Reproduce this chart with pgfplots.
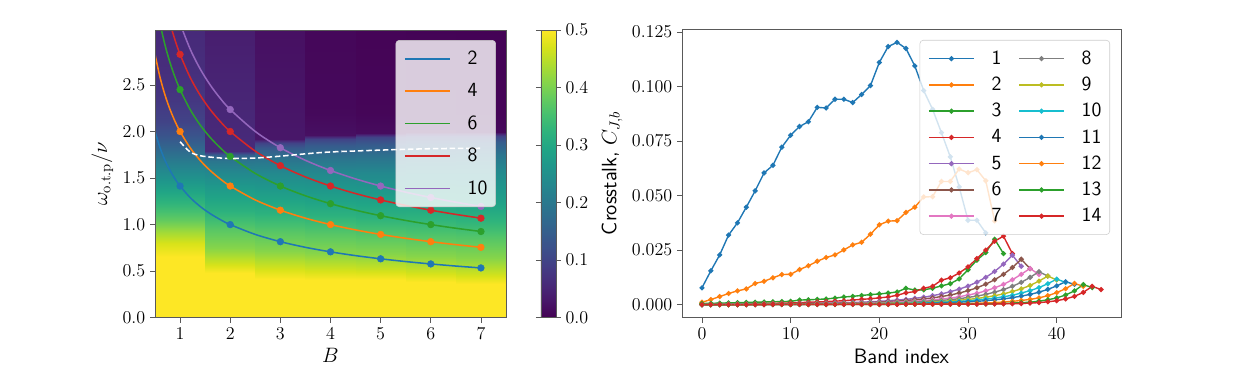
\RequirePackage{fix-cm}
\documentclass[border=0pt]{standalone}
\usepackage{fontspec}
\usepackage{pgfplots}
\pgfplotsset{compat=1.18}

\definecolor{C0}{HTML}{1F77B4}
\definecolor{C1}{HTML}{FF7F0E}
\definecolor{C2}{HTML}{2CA02C}
\definecolor{C3}{HTML}{D62728}
\definecolor{C4}{HTML}{9467BD}
\definecolor{C5}{HTML}{8C564B}
\definecolor{C6}{HTML}{E377C2}
\definecolor{C7}{HTML}{7F7F7F}
\definecolor{C8}{HTML}{BCBD22}
\definecolor{C9}{HTML}{17BECF}

\pgfplotsset{
  mpl/.style={
    scale only axis, anchor=south west,
    tick align=outside, tick pos=left, major tick length=3.5pt,
    axis line style={black!65},
    every tick/.style={black!65, line width=0.6pt},
    tick label style={font=\fontsize{13}{15}\selectfont},
    label style={font=\fontsize{15}{17}\selectfont},
    legend cell align=left,
    legend image code/.code={\draw[mark repeat=2,mark phase=2] plot coordinates {(0pt,0pt) (16.2pt,0pt) (32.4pt,0pt)};},
    legend style={draw=black!20, rounded corners=2.5pt, fill=white, fill opacity=0.8,
      text opacity=1, draw opacity=1, font=\sffamily\fontsize{14.5}{16}\selectfont,
      inner xsep=6pt, inner ysep=7.6pt, column sep=12.2pt, nodes={inner sep=0pt}},
  },
  cur/.style={#1, line width=1.1pt, smooth, no marks},
  dots/.style={#1, only marks, mark=*, mark size=2.4pt, forget plot},
  ser/.style={#1, line width=1pt, mark=*, mark size=1.3pt, mark options={solid}},
  heat/.style={surf, shader=interp, mesh/cols=2, point meta=explicit, forget plot},
}

\begin{document}
\begin{tikzpicture}
\useasboundingbox (0,0) rectangle (897.12pt,271.44pt);

% ---------------- left panel ----------------
\begin{axis}[mpl,
  at={(111.6pt,42.7pt)}, width=252.72pt, height=207.14pt,
  xmin=0.5, xmax=7.5, ymin=0, ymax=3.09,
  xtick={1,2,3,4,5,6,7}, ytick={0,0.5,1,1.5,2,2.5},
  yticklabel style={/pgf/number format/.cd, fixed, fixed zerofill, precision=1},
  xlabel={$B$}, ylabel={$\omega_{\mathrm{o.t.p}}/\nu$},
  axis on top,
  colormap/viridis, point meta min=0, point meta max=0.5,
  colorbar,
  colorbar style={at={(parent axis.north east)}, anchor=north west, xshift=16.56pt,
    scale only axis, width=10.8pt, height=207.14pt,
    axis line style={black!65}, every tick/.style={black!65, line width=0.6pt},
    tick align=outside, major tick length=3.5pt,
    ytick={0,0.1,0.2,0.3,0.4,0.5},
    yticklabel style={font=\fontsize{13}{15}\selectfont,
      /pgf/number format/.cd, fixed, fixed zerofill, precision=1}},
  legend style={at={(0.9715,0.965)}, anchor=north east, row sep=12.1pt},
]
% heat map, one column per B
\addplot[heat] table[header=false, meta index=2, row sep=\\] {
0.5 0.00 0.500\\ 1.5 0.00 0.500\\
0.5 0.65 0.500\\ 1.5 0.65 0.500\\
0.5 0.80 0.470\\ 1.5 0.80 0.470\\
0.5 0.92 0.430\\ 1.5 0.92 0.430\\
0.5 1.05 0.380\\ 1.5 1.05 0.380\\
0.5 1.20 0.335\\ 1.5 1.20 0.335\\
0.5 1.35 0.295\\ 1.5 1.35 0.295\\
0.5 1.50 0.255\\ 1.5 1.50 0.255\\
0.5 1.65 0.215\\ 1.5 1.65 0.215\\
0.5 1.80 0.170\\ 1.5 1.80 0.170\\
0.5 1.95 0.130\\ 1.5 1.95 0.130\\
0.5 2.10 0.100\\ 1.5 2.10 0.100\\
0.5 2.35 0.078\\ 1.5 2.35 0.078\\
0.5 2.70 0.064\\ 1.5 2.70 0.064\\
0.5 3.09 0.058\\ 1.5 3.09 0.058\\
};
\addplot[heat] table[header=false, meta index=2, row sep=\\] {
1.5 0.00 0.500\\ 2.5 0.00 0.500\\
1.5 0.48 0.500\\ 2.5 0.48 0.500\\
1.5 0.60 0.460\\ 2.5 0.60 0.460\\
1.5 0.75 0.410\\ 2.5 0.75 0.410\\
1.5 0.95 0.370\\ 2.5 0.95 0.370\\
1.5 1.15 0.320\\ 2.5 1.15 0.320\\
1.5 1.35 0.280\\ 2.5 1.35 0.280\\
1.5 1.55 0.235\\ 2.5 1.55 0.235\\
1.5 1.68 0.195\\ 2.5 1.68 0.195\\
1.5 1.75 0.150\\ 2.5 1.75 0.150\\
1.5 1.79 0.060\\ 2.5 1.79 0.060\\
1.5 3.09 0.040\\ 2.5 3.09 0.040\\
};
\addplot[heat] table[header=false, meta index=2, row sep=\\] {
2.5 0.00 0.500\\ 3.5 0.00 0.500\\
2.5 0.42 0.500\\ 3.5 0.42 0.500\\
2.5 0.55 0.460\\ 3.5 0.55 0.460\\
2.5 0.72 0.410\\ 3.5 0.72 0.410\\
2.5 0.92 0.370\\ 3.5 0.92 0.370\\
2.5 1.12 0.320\\ 3.5 1.12 0.320\\
2.5 1.35 0.275\\ 3.5 1.35 0.275\\
2.5 1.55 0.235\\ 3.5 1.55 0.235\\
2.5 1.70 0.190\\ 3.5 1.70 0.190\\
2.5 1.82 0.140\\ 3.5 1.82 0.140\\
2.5 1.88 0.100\\ 3.5 1.88 0.100\\
2.5 1.92 0.030\\ 3.5 1.92 0.030\\
2.5 3.09 0.020\\ 3.5 3.09 0.020\\
};
\addplot[heat] table[header=false, meta index=2, row sep=\\] {
3.5 0.00 0.500\\ 4.5 0.00 0.500\\
3.5 0.41 0.500\\ 4.5 0.41 0.500\\
3.5 0.53 0.460\\ 4.5 0.53 0.460\\
3.5 0.70 0.410\\ 4.5 0.70 0.410\\
3.5 0.90 0.370\\ 4.5 0.90 0.370\\
3.5 1.10 0.320\\ 4.5 1.10 0.320\\
3.5 1.33 0.275\\ 4.5 1.33 0.275\\
3.5 1.55 0.235\\ 4.5 1.55 0.235\\
3.5 1.72 0.190\\ 4.5 1.72 0.190\\
3.5 1.85 0.140\\ 4.5 1.85 0.140\\
3.5 1.92 0.100\\ 4.5 1.92 0.100\\
3.5 1.96 0.020\\ 4.5 1.96 0.020\\
3.5 2.20 0.010\\ 4.5 2.20 0.010\\
3.5 3.09 0.008\\ 4.5 3.09 0.008\\
};
\addplot[heat] table[header=false, meta index=2, row sep=\\] {
4.5 0.00 0.500\\ 5.5 0.00 0.500\\
4.5 0.40 0.500\\ 5.5 0.40 0.500\\
4.5 0.52 0.460\\ 5.5 0.52 0.460\\
4.5 0.68 0.410\\ 5.5 0.68 0.410\\
4.5 0.88 0.370\\ 5.5 0.88 0.370\\
4.5 1.08 0.320\\ 5.5 1.08 0.320\\
4.5 1.32 0.275\\ 5.5 1.32 0.275\\
4.5 1.55 0.235\\ 5.5 1.55 0.235\\
4.5 1.73 0.190\\ 5.5 1.73 0.190\\
4.5 1.87 0.140\\ 5.5 1.87 0.140\\
4.5 1.94 0.100\\ 5.5 1.94 0.100\\
4.5 1.98 0.015\\ 5.5 1.98 0.015\\
4.5 2.20 0.006\\ 5.5 2.20 0.006\\
4.5 3.09 0.004\\ 5.5 3.09 0.004\\
};
\addplot[heat] table[header=false, meta index=2, row sep=\\] {
5.5 0.00 0.500\\ 6.5 0.00 0.500\\
5.5 0.38 0.500\\ 6.5 0.38 0.500\\
5.5 0.50 0.460\\ 6.5 0.50 0.460\\
5.5 0.66 0.410\\ 6.5 0.66 0.410\\
5.5 0.86 0.370\\ 6.5 0.86 0.370\\
5.5 1.06 0.325\\ 6.5 1.06 0.325\\
5.5 1.30 0.280\\ 6.5 1.30 0.280\\
5.5 1.55 0.240\\ 6.5 1.55 0.240\\
5.5 1.74 0.195\\ 6.5 1.74 0.195\\
5.5 1.88 0.145\\ 6.5 1.88 0.145\\
5.5 1.95 0.100\\ 6.5 1.95 0.100\\
5.5 1.99 0.012\\ 6.5 1.99 0.012\\
5.5 2.20 0.005\\ 6.5 2.20 0.005\\
5.5 3.09 0.003\\ 6.5 3.09 0.003\\
};
\addplot[heat] table[header=false, meta index=2, row sep=\\] {
6.5 0.00 0.500\\ 7.5 0.00 0.500\\
6.5 0.36 0.500\\ 7.5 0.36 0.500\\
6.5 0.48 0.460\\ 7.5 0.48 0.460\\
6.5 0.64 0.410\\ 7.5 0.64 0.410\\
6.5 0.84 0.370\\ 7.5 0.84 0.370\\
6.5 1.04 0.325\\ 7.5 1.04 0.325\\
6.5 1.28 0.280\\ 7.5 1.28 0.280\\
6.5 1.55 0.240\\ 7.5 1.55 0.240\\
6.5 1.75 0.195\\ 7.5 1.75 0.195\\
6.5 1.89 0.145\\ 7.5 1.89 0.145\\
6.5 1.95 0.100\\ 7.5 1.95 0.100\\
6.5 1.99 0.010\\ 7.5 1.99 0.010\\
6.5 2.20 0.004\\ 7.5 2.20 0.004\\
6.5 3.09 0.002\\ 7.5 3.09 0.002\\
};

% omega = sqrt(n/B) curves
\addplot[cur=C0] coordinates {(0.5,2.0000) (0.6,1.8257) (0.7,1.6903) (0.8,1.5811) (0.9,1.4907) (1,1.4142) (1.2,1.2910) (1.4,1.1952) (1.6,1.1180) (1.8,1.0541) (2,1.0000) (2.5,0.8944) (3,0.8165) (3.5,0.7559) (4,0.7071) (4.5,0.6667) (5,0.6325) (5.5,0.6030) (6,0.5774) (6.5,0.5547) (7,0.5345)};
\addlegendentry{2}
\addplot[cur=C1] coordinates {(0.5,2.8284) (0.6,2.5820) (0.7,2.3905) (0.8,2.2361) (0.9,2.1082) (1,2.0000) (1.2,1.8257) (1.4,1.6903) (1.6,1.5811) (1.8,1.4907) (2,1.4142) (2.5,1.2649) (3,1.1547) (3.5,1.0690) (4,1.0000) (4.5,0.9428) (5,0.8944) (5.5,0.8528) (6,0.8165) (6.5,0.7845) (7,0.7559)};
\addlegendentry{4}
\addplot[cur=C2] coordinates {(0.5,3.4641) (0.6,3.1623) (0.7,2.9277) (0.8,2.7386) (0.9,2.5820) (1,2.4495) (1.2,2.2361) (1.4,2.0702) (1.6,1.9365) (1.8,1.8257) (2,1.7321) (2.5,1.5492) (3,1.4142) (3.5,1.3093) (4,1.2247) (4.5,1.1547) (5,1.0954) (5.5,1.0445) (6,1.0000) (6.5,0.9608) (7,0.9258)};
\addlegendentry{6}
\addplot[cur=C3] coordinates {(0.7,3.3806) (0.8,3.1623) (0.9,2.9814) (1,2.8284) (1.2,2.5820) (1.4,2.3905) (1.6,2.2361) (1.8,2.1082) (2,2.0000) (2.5,1.7889) (3,1.6330) (3.5,1.5119) (4,1.4142) (4.5,1.3333) (5,1.2649) (5.5,1.2060) (6,1.1547) (6.5,1.1094) (7,1.0690)};
\addlegendentry{8}
\addplot[cur=C4] coordinates {(0.9,3.3333) (1,3.1623) (1.2,2.8868) (1.4,2.6726) (1.6,2.5000) (1.8,2.3570) (2,2.2361) (2.5,2.0000) (3,1.8257) (3.5,1.6903) (4,1.5811) (4.5,1.4907) (5,1.4142) (5.5,1.3484) (6,1.2910) (6.5,1.2403) (7,1.1952)};
\addlegendentry{10}

\addplot[dots=C0] coordinates {(1,1.4142) (2,1.0000) (3,0.8165) (4,0.7071) (5,0.6325) (6,0.5774) (7,0.5345)};
\addplot[dots=C1] coordinates {(1,2.0000) (2,1.4142) (3,1.1547) (4,1.0000) (5,0.8944) (6,0.8165) (7,0.7559)};
\addplot[dots=C2] coordinates {(1,2.4495) (2,1.7321) (3,1.4142) (4,1.2247) (5,1.0954) (6,1.0000) (7,0.9258)};
\addplot[dots=C3] coordinates {(1,2.8284) (2,2.0000) (3,1.6330) (4,1.4142) (5,1.2649) (6,1.1547) (7,1.0690)};
\addplot[dots=C4] coordinates {(2,2.2361) (3,1.8257) (4,1.5811) (5,1.4142) (6,1.2910) (7,1.1952)};

% white dashed boundary
\addplot[white, line width=1.1pt, dash pattern=on 4pt off 2pt, smooth, forget plot] coordinates {(1,1.89) (1.2,1.78) (1.4,1.74) (1.7,1.72) (2,1.71) (2.5,1.715) (3,1.735) (3.5,1.76) (4,1.78) (5,1.80) (6,1.815) (7,1.82)};
\end{axis}

% ---------------- right panel ----------------
\begin{axis}[mpl,
  at={(491.04pt,42.7pt)}, width=316.08pt, height=207.65pt,
  xmin=-2.25, xmax=47.25, ymin=-0.006, ymax=0.1263,
  xtick={0,10,20,30,40}, ytick={0,0.025,0.05,0.075,0.1,0.125},
  scaled y ticks=false,
  yticklabel style={/pgf/number format/.cd, fixed, fixed zerofill, precision=3},
  xlabel={\textsf{Band index}}, ylabel={\textsf{Crosstalk,} $C_{J,b}$},
  legend columns=7, transpose legend,
  legend style={at={(0.975,0.963)}, anchor=north east, row sep=7.6pt},
]
\addplot[ser=C0] table[x expr=\coordindex, y index=0, header=false, row sep=\\] {
0.0077\\0.0155\\0.0228\\0.0319\\0.0375\\0.0447\\0.0522\\0.0604\\0.0639\\0.0722\\0.0777\\0.0817\\0.0839\\0.0905\\0.0902\\0.0942\\0.0942\\0.0927\\0.0964\\0.1005\\0.1111\\0.1184\\0.1203\\0.1175\\0.1095\\0.0982\\0.0896\\0.0789\\0.0678\\0.0540\\0.0387\\0.0387\\0.0329\\
};
\addlegendentry{1}
\addplot[ser=C1] table[x expr=\coordindex, y index=0, header=false, row sep=\\] {
0.0011\\0.0023\\0.0037\\0.0051\\0.0063\\0.0072\\0.0097\\0.0107\\0.0123\\0.0138\\0.0139\\0.0161\\0.0178\\0.0199\\0.0216\\0.0228\\0.0251\\0.0274\\0.0286\\0.0323\\0.0366\\0.0383\\0.0385\\0.0423\\0.0447\\0.0494\\0.0495\\0.0565\\0.0565\\0.0622\\0.0605\\0.0619\\0.0568\\0.0384\\
};
\addlegendentry{2}
\addplot[ser=C2] table[x expr=\coordindex, y index=0, header=false, row sep=\\] {
0.0005\\0.0006\\0.0007\\0.0008\\0.0009\\0.0010\\0.0011\\0.0012\\0.0013\\0.0014\\0.0015\\0.0021\\0.0022\\0.0024\\0.0026\\0.0030\\0.0035\\0.0038\\0.0042\\0.0046\\0.0049\\0.0053\\0.0058\\0.0075\\0.0067\\0.0068\\0.0075\\0.0086\\0.0096\\0.0118\\0.0160\\0.0204\\0.0239\\0.0300\\0.0234\\
};
\addlegendentry{3}
\addplot[ser=C3] table[x expr=\coordindex, y index=0, header=false, row sep=\\] {
0.0000\\0.0001\\0.0001\\0.0002\\0.0003\\0.0003\\0.0004\\0.0005\\0.0006\\0.0007\\0.0008\\0.0009\\0.0011\\0.0012\\0.0014\\0.0016\\0.0018\\0.0021\\0.0024\\0.0027\\0.0031\\0.0035\\0.0043\\0.0054\\0.0060\\0.0075\\0.0084\\0.0112\\0.0123\\0.0145\\0.0173\\0.0211\\0.0250\\0.0291\\0.0314\\0.0234\\
};
\addlegendentry{4}
\addplot[ser=C4] table[x expr=\coordindex, y index=0, header=false, row sep=\\] {
0.0000\\0.0000\\0.0001\\0.0001\\0.0001\\0.0001\\0.0002\\0.0002\\0.0002\\0.0003\\0.0003\\0.0005\\0.0005\\0.0006\\0.0007\\0.0008\\0.0009\\0.0010\\0.0011\\0.0013\\0.0015\\0.0018\\0.0021\\0.0024\\0.0029\\0.0034\\0.0041\\0.0049\\0.0059\\0.0071\\0.0085\\0.0103\\0.0125\\0.0152\\0.0186\\0.0227\\0.0176\\
};
\addlegendentry{5}
\addplot[ser=C5] table[x expr=\coordindex, y index=0, header=false, row sep=\\] {
0.0000\\0.0000\\0.0001\\0.0001\\0.0001\\0.0001\\0.0002\\0.0002\\0.0002\\0.0002\\0.0003\\0.0003\\0.0004\\0.0005\\0.0006\\0.0006\\0.0007\\0.0008\\0.0009\\0.0010\\0.0012\\0.0014\\0.0016\\0.0019\\0.0022\\0.0026\\0.0031\\0.0037\\0.0044\\0.0053\\0.0064\\0.0077\\0.0094\\0.0114\\0.0139\\0.0170\\0.0208\\0.0165\\
};
\addlegendentry{6}
\addplot[ser=C6] table[x expr=\coordindex, y index=0, header=false, row sep=\\] {
0.0000\\0.0000\\0.0000\\0.0001\\0.0001\\0.0001\\0.0001\\0.0002\\0.0002\\0.0002\\0.0002\\0.0002\\0.0003\\0.0004\\0.0004\\0.0005\\0.0005\\0.0006\\0.0007\\0.0008\\0.0009\\0.0010\\0.0012\\0.0013\\0.0016\\0.0018\\0.0022\\0.0026\\0.0030\\0.0036\\0.0044\\0.0052\\0.0063\\0.0077\\0.0093\\0.0114\\0.0139\\0.0166\\0.0138\\
};
\addlegendentry{7}
\addplot[ser=C7] table[x expr=\coordindex, y index=0, header=false, row sep=\\] {
0.0000\\0.0000\\0.0000\\0.0001\\0.0001\\0.0001\\0.0001\\0.0001\\0.0001\\0.0002\\0.0002\\0.0002\\0.0003\\0.0003\\0.0003\\0.0004\\0.0004\\0.0005\\0.0006\\0.0006\\0.0007\\0.0008\\0.0009\\0.0010\\0.0012\\0.0014\\0.0017\\0.0019\\0.0023\\0.0027\\0.0033\\0.0039\\0.0047\\0.0057\\0.0069\\0.0084\\0.0102\\0.0125\\0.0151\\0.0131\\
};
\addlegendentry{8}
\addplot[ser=C8] table[x expr=\coordindex, y index=0, header=false, row sep=\\] {
0.0000\\0.0000\\0.0000\\0.0000\\0.0001\\0.0001\\0.0001\\0.0001\\0.0001\\0.0001\\0.0002\\0.0002\\0.0002\\0.0003\\0.0003\\0.0003\\0.0004\\0.0004\\0.0004\\0.0005\\0.0005\\0.0006\\0.0007\\0.0008\\0.0009\\0.0010\\0.0012\\0.0014\\0.0017\\0.0020\\0.0024\\0.0028\\0.0034\\0.0041\\0.0049\\0.0060\\0.0072\\0.0088\\0.0108\\0.0131\\0.0113\\
};
\addlegendentry{9}
\addplot[ser=C9] table[x expr=\coordindex, y index=0, header=false, row sep=\\] {
0.0000\\0.0000\\0.0000\\0.0000\\0.0001\\0.0001\\0.0001\\0.0001\\0.0001\\0.0001\\0.0001\\0.0001\\0.0002\\0.0002\\0.0002\\0.0002\\0.0003\\0.0003\\0.0003\\0.0004\\0.0004\\0.0005\\0.0005\\0.0006\\0.0007\\0.0008\\0.0009\\0.0011\\0.0012\\0.0015\\0.0017\\0.0021\\0.0025\\0.0030\\0.0036\\0.0043\\0.0053\\0.0064\\0.0078\\0.0096\\0.0117\\0.0102\\
};
\addlegendentry{10}
\addplot[ser=C0] table[x expr=\coordindex, y index=0, header=false, row sep=\\] {
0.0000\\0.0000\\0.0000\\0.0000\\0.0000\\0.0000\\0.0001\\0.0001\\0.0001\\0.0001\\0.0001\\0.0001\\0.0001\\0.0001\\0.0001\\0.0001\\0.0002\\0.0002\\0.0003\\0.0003\\0.0003\\0.0004\\0.0004\\0.0005\\0.0005\\0.0006\\0.0007\\0.0008\\0.0009\\0.0011\\0.0013\\0.0015\\0.0018\\0.0022\\0.0026\\0.0032\\0.0039\\0.0047\\0.0057\\0.0070\\0.0086\\0.0105\\0.0093\\
};
\addlegendentry{11}
\addplot[ser=C1] table[x expr=\coordindex, y index=0, header=false, row sep=\\] {
0.0000\\0.0000\\0.0000\\0.0000\\0.0000\\0.0000\\0.0001\\0.0001\\0.0001\\0.0001\\0.0001\\0.0001\\0.0001\\0.0001\\0.0001\\0.0001\\0.0002\\0.0002\\0.0002\\0.0002\\0.0002\\0.0002\\0.0002\\0.0002\\0.0003\\0.0003\\0.0003\\0.0004\\0.0004\\0.0005\\0.0005\\0.0006\\0.0008\\0.0009\\0.0012\\0.0015\\0.0019\\0.0024\\0.0031\\0.0041\\0.0055\\0.0073\\0.0097\\0.0084\\
};
\addlegendentry{12}
\addplot[ser=C2] table[x expr=\coordindex, y index=0, header=false, row sep=\\] {
0.0000\\0.0000\\0.0000\\0.0000\\0.0000\\0.0000\\0.0000\\0.0000\\0.0001\\0.0001\\0.0001\\0.0001\\0.0001\\0.0001\\0.0001\\0.0001\\0.0001\\0.0001\\0.0001\\0.0001\\0.0001\\0.0001\\0.0002\\0.0002\\0.0002\\0.0002\\0.0002\\0.0002\\0.0002\\0.0002\\0.0003\\0.0003\\0.0003\\0.0004\\0.0005\\0.0007\\0.0009\\0.0011\\0.0016\\0.0022\\0.0031\\0.0044\\0.0063\\0.0092\\0.0078\\
};
\addlegendentry{13}
\addplot[ser=C3] table[x expr=\coordindex, y index=0, header=false, row sep=\\] {
0.0000\\0.0000\\0.0000\\0.0000\\0.0000\\0.0000\\0.0000\\0.0000\\0.0001\\0.0001\\0.0001\\0.0001\\0.0001\\0.0001\\0.0001\\0.0001\\0.0001\\0.0001\\0.0001\\0.0001\\0.0001\\0.0001\\0.0001\\0.0002\\0.0002\\0.0002\\0.0002\\0.0002\\0.0002\\0.0002\\0.0002\\0.0002\\0.0003\\0.0003\\0.0004\\0.0004\\0.0005\\0.0007\\0.0009\\0.0013\\0.0018\\0.0026\\0.0038\\0.0056\\0.0084\\0.0069\\
};
\addlegendentry{14}
\end{axis}
\end{tikzpicture}
\end{document}
